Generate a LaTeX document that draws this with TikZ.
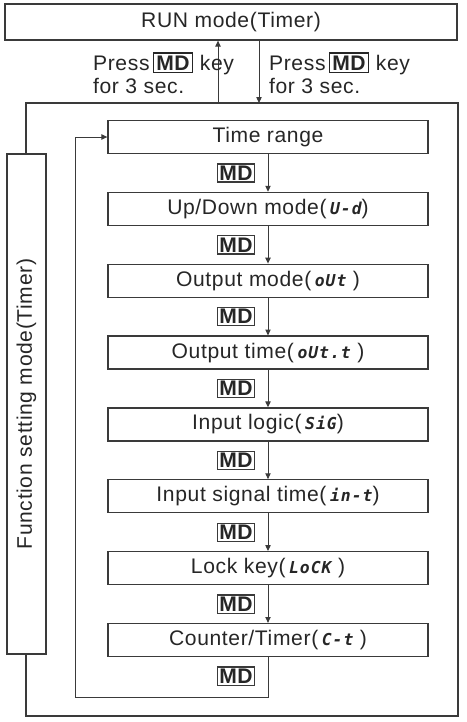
\documentclass[tikz,border=0pt]{standalone}
\usepackage{fontspec}
\setmainfont{Liberation Sans}[LetterSpace=3]
\newfontfamily\segfont{DejaVu Sans Mono}[LetterSpace=6]
\usepackage{tikz}
\usetikzlibrary{arrows.meta}

\definecolor{lnclr}{HTML}{3A3A3A}
\newcommand{\mdbox}{{\fboxsep=1.6pt\fboxrule=1.1pt\fbox{\bfseries MD}}}
\newcommand{\seg}[1]{\,{\segfont\bfseries\itshape\fontsize{14}{14}\selectfont #1}}

\begin{document}
\begin{tikzpicture}[x=0.03cm, y=-0.03cm,
  every node/.style={font=\fontsize{18}{20}\selectfont, text=black!85},
  modebox/.style={draw=lnclr, line width=1.1pt, inner sep=0pt,
    minimum width=9.6cm, minimum height=0.99cm},
  mdkey/.style={draw=lnclr, line width=1.1pt, inner sep=1.6pt, font=\fontsize{18}{20}\selectfont\bfseries},
  flowarr/.style={draw=lnclr, line width=0.8pt, -{Triangle[length=5pt,width=4.5pt]}},
  flowln/.style={draw=lnclr, line width=0.8pt}]
  \useasboundingbox (0,0) rectangle (466,722);

  \node[modebox, minimum width=13.56cm, minimum height=1.08cm] (run) at (231,22) {RUN mode(Timer)};
  \draw[flowln, line width=1.1pt] (26,103) rectangle (458,716);

  \coordinate (upft) at (218,103);
  \coordinate (dnft) at (259,103);
  \draw[flowarr] (upft) -- (upft |- run.south);
  \draw[flowarr] (dnft |- run.south) -- (dnft);
  \node[align=left, anchor=west] (pressup) at (89,73) {Press\,\mdbox\hspace{6pt}key\\for 3 sec.};
  \node[align=left, anchor=west] (pressdn) at (265,73) {Press\,\mdbox\hspace{6pt}key\\for 3 sec.};

  \node[modebox, fill=white, rotate=90, minimum width=15cm, minimum height=1.17cm] (fset) at (26.5,404)
    {Function setting mode(Timer)};

  \foreach \name/\txt [count=\i from 0] in {trange/{Time range},
      updn/{Up/Down mode(\seg{U-d})},
      omode/{Output mode(\seg{oUt} )},
      otime/{Output time(\seg{oUt.t} )},
      ilogic/{Input logic(\seg{SiG})},
      isig/{Input signal time(\seg{in-t})},
      lkey/{Lock key(\seg{LoCK} )},
      ctimer/{Counter/Timer(\seg{C-t} )}}
    \node[modebox] (\name) at (268,137+71.86*\i) {\txt};

  \foreach \i in {0,...,7}
    \node[mdkey] (md\i) at (236,173+71.86*\i) {MD};

  \foreach \a/\b in {trange/updn, updn/omode, omode/otime, otime/ilogic,
      ilogic/isig, isig/lkey, lkey/ctimer}
    \draw[flowarr] (\a) -- (\b);

  % back to the first item
  \coordinate (loopbl) at (75,697);
  \draw[flowarr] (ctimer) -- (ctimer |- loopbl) -- (loopbl) |- (trange.west);
\end{tikzpicture}
\end{document}
